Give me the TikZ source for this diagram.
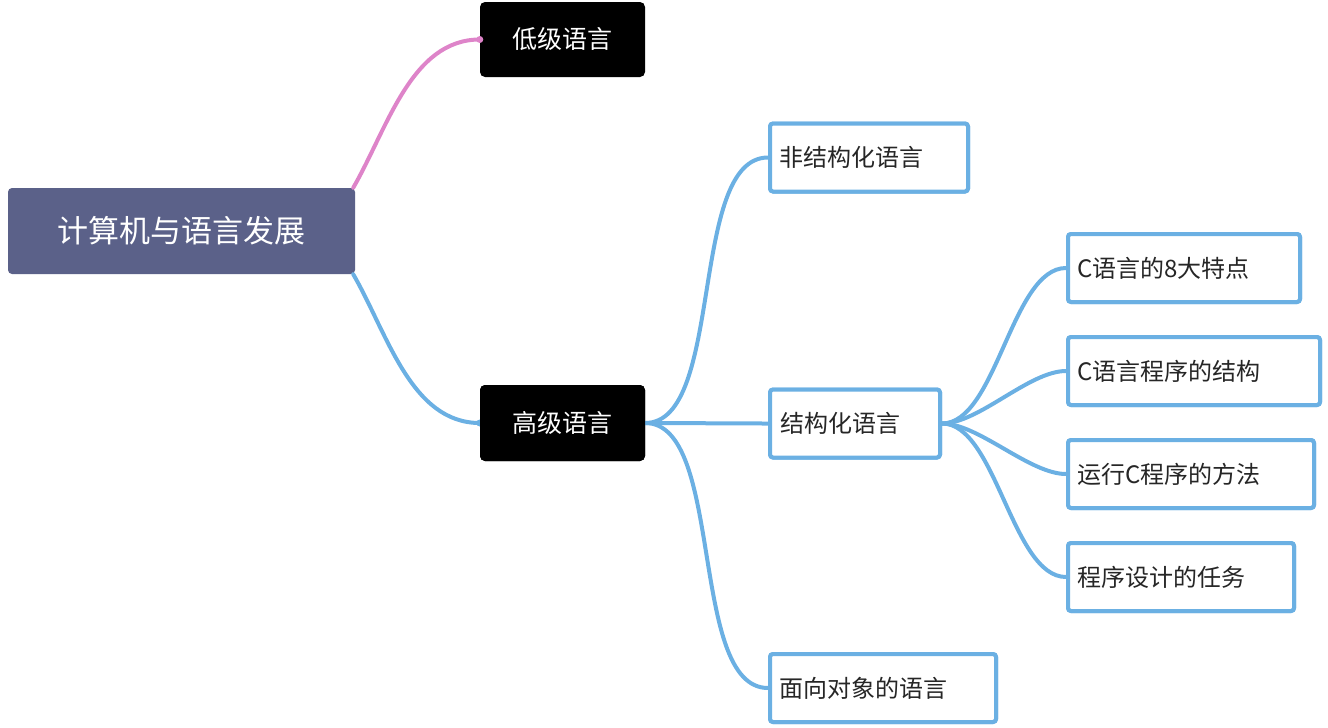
\documentclass[tikz,border=0pt]{standalone}
\usepackage{fontspec}
\setmainfont{Noto Sans CJK SC}
\begin{document}
\begin{tikzpicture}[x=1pt,y=-1pt]
\definecolor{rootc}{HTML}{5B6189}
\definecolor{bl}{HTML}{6BB0E3}
\definecolor{pk}{HTML}{DE84C9}
\tikzset{
 rootbox/.style={fill=rootc,rounded corners=4pt,text=white,font=\fontsize{31}{36}\selectfont,inner sep=0pt},
 darkbox/.style={fill=black,rounded corners=5pt,text=white,font=\fontsize{25}{30}\selectfont,inner sep=0pt},
 leafbox/.style={draw=bl,line width=4pt,fill=white,rounded corners=3pt,text=black!85,font=\fontsize{24}{28}\selectfont,inner sep=0pt,align=left,text width=#1,minimum height=68pt},
 link/.style={line width=4pt,line cap=round},
 dotc/.style={fill=#1,circle,inner sep=0pt,minimum size=7pt}
}
\useasboundingbox (0,0) rectangle (1328,728);
\node[rootbox,minimum width=347pt,minimum height=86pt] (root) at (181.5,231) {计算机与语言发展};
\node[darkbox,minimum width=165pt,minimum height=75pt] (low) at (562.5,39.5) {低级语言};
\node[darkbox,minimum width=165pt,minimum height=76pt] (high) at (562.5,423) {高级语言};
\node[leafbox=180pt,minimum width=198pt] (a) at (869,157.5) {非结构化语言};
\node[leafbox=150pt,minimum width=170pt] (b) at (855,423.5) {结构化语言};
\node[leafbox=208pt,minimum width=226pt] (c) at (883,688) {面向对象的语言};
\node[leafbox=214pt,minimum width=232pt] (d1) at (1184,268) {C语言的8大特点};
\node[leafbox=234pt,minimum width=252pt] (d2) at (1194,371) {C语言程序的结构};
\node[leafbox=228pt,minimum width=246pt] (d3) at (1191,474) {运行C程序的方法};
\node[leafbox=208pt,minimum width=226pt] (d4) at (1181,577) {程序设计的任务};
\begin{scope}[on background layer/.style={}]
\draw[link,pk] (root.north east) ++(-2,0) coordinate (r1) to[out=60,in=180,looseness=0.9] (low.west);
\node[dotc=pk] at (low.west) {};
\draw[link,bl] (root.south east) ++(-2,0) coordinate (r2) to[out=-60,in=180,looseness=0.9] (high.west);
\node[dotc=bl] at (high.west) {};
\foreach \t in {a,b,c}{\draw[link,bl] (high.east) to[out=0,in=180,looseness=0.7] (\t.west);}
\foreach \t in {d1,d2,d3,d4}{\draw[link,bl] (b.east) to[out=0,in=180,looseness=0.7] (\t.west);}
\end{scope}
\node[leafbox=180pt,minimum width=198pt] at (869,157.5) {非结构化语言};
\node[leafbox=150pt,minimum width=170pt] at (855,423.5) {结构化语言};
\node[leafbox=208pt,minimum width=226pt] at (883,688) {面向对象的语言};
\node[leafbox=214pt,minimum width=232pt] at (1184,268) {C语言的8大特点};
\node[leafbox=234pt,minimum width=252pt] at (1194,371) {C语言程序的结构};
\node[leafbox=228pt,minimum width=246pt] at (1191,474) {运行C程序的方法};
\node[leafbox=208pt,minimum width=226pt] at (1181,577) {程序设计的任务};
\node[darkbox,minimum width=165pt,minimum height=76pt] at (562.5,423) {高级语言};
\end{tikzpicture}
\end{document}
